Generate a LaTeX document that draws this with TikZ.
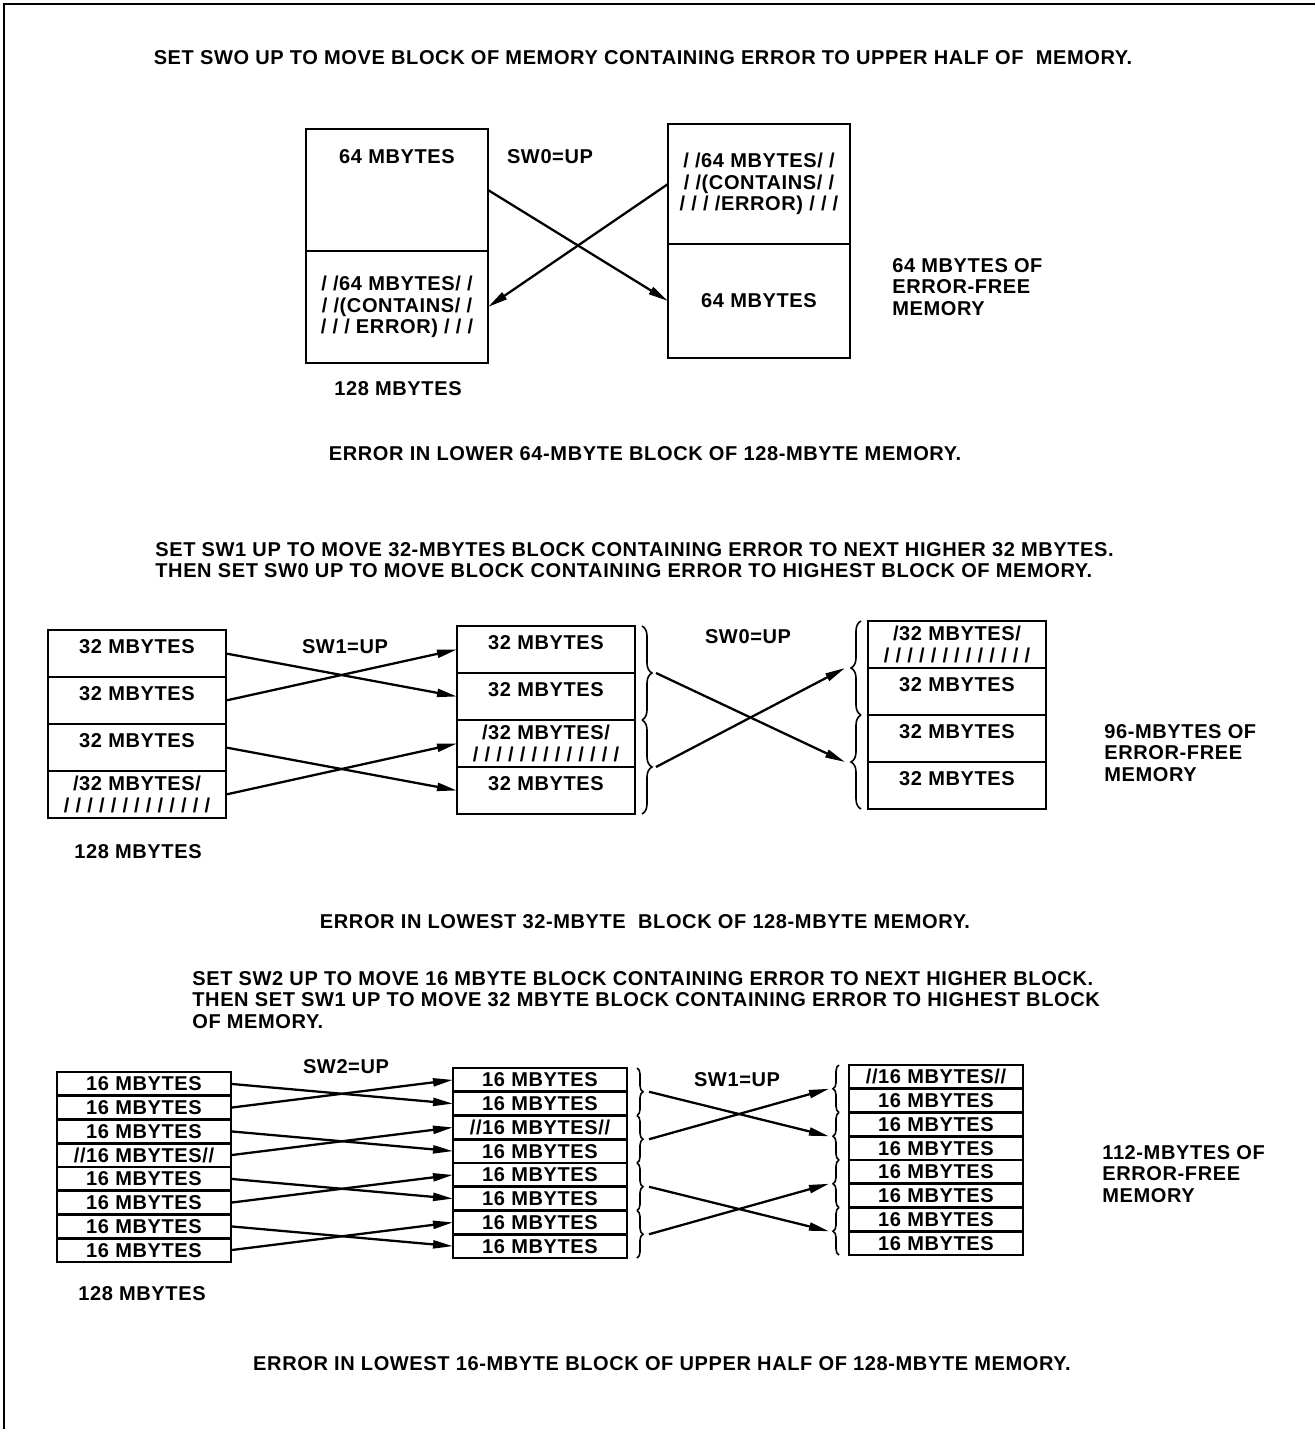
\documentclass[tikz,border=0pt]{standalone}
\usepackage{fontspec}
\setmainfont[LetterSpace=3]{Liberation Sans}
\usetikzlibrary{arrows.meta,positioning,calc,decorations.pathreplacing}

\begin{document}
\begin{tikzpicture}[
    x=0.2mm, y=-0.2mm,
    every node/.style={font=\fontsize{11.4}{12.3}\selectfont\bfseries},
    cell/.style={draw, line width=1.5pt, outer sep=0pt, inner sep=0pt, align=center},
    big/.style={cell, minimum width=36.4mm},
    mid/.style={cell, minimum width=35.6mm, minimum height=9.4mm,
                text height=2.6mm, text depth=2.6mm},
    midx/.style={cell, minimum width=35.6mm, minimum height=9.4mm},
    small/.style={cell, minimum width=34.8mm, minimum height=4.75mm},
    note/.style={anchor=north west, align=left, inner sep=0pt},
    line/.style={-{Triangle[length=4mm,width=1.6mm]}, line width=1.3pt},
    brace/.style={decorate, decoration={brace, amplitude=2mm}, line width=0.9pt},
    thin brace/.style={decorate, decoration={brace, amplitude=1.2mm}, line width=0.9pt}
]
\useasboundingbox (0,0) rectangle (1315,1429);
\draw[line width=1.5pt] (1315,4) -- (4,4) -- (4,1429);

% first step: SW0
\node (head1) at (643,58) {SET SWO UP TO MOVE BLOCK OF MEMORY CONTAINING ERROR TO UPPER HALF OF \ MEMORY.};
\node[big, minimum height=24.4mm, text height=2.6mm, text depth=13.4mm, anchor=north west]
      (a1) at (306,129) {64 MBYTES};
\node[big, minimum height=22.4mm, below=0pt of a1]
      (a2) {/\ /64 MBYTES/\ /\\/\ /(CONTAINS/\ /\\/\ /\ /\ ERROR)\ /\ /\ /};
\node[big, minimum height=24mm, anchor=north west]
      (b1) at (668,124) {/\ /64 MBYTES/\ /\\/\ /(CONTAINS/\ /\\/\ /\ /\ /ERROR)\ /\ /\ /};
\node[big, minimum height=22.8mm, below=0pt of b1] (b2) {64 MBYTES};
\node (sw0a) at (550,157) {SW0=UP};
\node[note] (free1) at (892,258) {64 MBYTES OF\\ERROR-FREE\\MEMORY};
\node (size1) at (398,389) {128 MBYTES};
\node (cap1) at (645,454) {ERROR IN LOWER 64-MBYTE BLOCK OF 128-MBYTE MEMORY.};

\draw[line] (a1.east) -- (b2.west);
\draw[line] (b1.west) -- (a2.east);

% second step: SW1 then SW0
\node[note] (head2) at (155,542) {SET SW1 UP TO MOVE 32-MBYTES BLOCK CONTAINING ERROR TO NEXT HIGHER 32 MBYTES.\\
      THEN SET SW0 UP TO MOVE BLOCK CONTAINING ERROR TO HIGHEST BLOCK OF MEMORY.};
\node[mid, anchor=north west] (c1) at (48,630) {32 MBYTES};
\node[mid,  below=0pt of c1] (c2) {32 MBYTES};
\node[mid,  below=0pt of c2] (c3) {32 MBYTES};
\node[midx, below=0pt of c3] (c4) {/32 MBYTES/\\/ / / / / / / / / / / / /};

\node[mid, anchor=north west] (d1) at (457,626) {32 MBYTES};
\node[mid,  below=0pt of d1] (d2) {32 MBYTES};
\node[midx, below=0pt of d2] (d3) {/32 MBYTES/\\/ / / / / / / / / / / / /};
\node[mid,  below=0pt of d3] (d4) {32 MBYTES};

\node[midx, anchor=north west] (e1) at (868,621) {/32 MBYTES/\\/ / / / / / / / / / / / /};
\node[mid, below=0pt of e1] (e2) {32 MBYTES};
\node[mid, below=0pt of e2] (e3) {32 MBYTES};
\node[mid, below=0pt of e3] (e4) {32 MBYTES};

\node (sw1b) at (345,647) {SW1=UP};
\node (sw0b) at (748,637) {SW0=UP};
\node[note] (free2) at (1104,724) {96-MBYTES OF\\ERROR-FREE\\MEMORY};
\node (size2) at (138,852) {128 MBYTES};
\node (cap2) at (645,922) {ERROR IN LOWEST 32-MBYTE \ BLOCK OF 128-MBYTE MEMORY.};

\draw[brace] ($(d1.north east)+(7,0)$) -- ($(d2.south east)+(7,0)$);
\draw[brace] ($(d3.north east)+(7,0)$) -- ($(d4.south east)+(7,0)$);
\draw[brace] ($(e2.south west)+(-7,0)$) -- ($(e1.north west)+(-7,0)$);
\draw[brace] ($(e4.south west)+(-7,0)$) -- ($(e3.north west)+(-7,0)$);
\coordinate (t1) at ($(d1.south east)+(21,0)$);
\coordinate (t2) at ($(d3.south east)+(21,0)$);
\coordinate (u1) at ($(e1.south west)+(-23,0)$);
\coordinate (u2) at ($(e3.south west)+(-23,0)$);

\draw[line] (c1.east) -- (d2.west);
\draw[line] (c2.east) -- (d1.west);
\draw[line] (c3.east) -- (d4.west);
\draw[line] (c4.east) -- (d3.west);
\draw[line] (t1) -- (u2);
\draw[line] (t2) -- (u1);

% third step: SW2 then SW1
\node[note] (head3) at (192,971) {SET SW2 UP TO MOVE 16 MBYTE BLOCK CONTAINING ERROR TO NEXT HIGHER BLOCK.\\
      THEN SET SW1 UP TO MOVE 32 MBYTE BLOCK CONTAINING ERROR TO HIGHEST BLOCK\\OF MEMORY.};
\node[small, anchor=north west] (f1) at (57,1072) {16 MBYTES};
\node[small, below=0pt of f1] (f2) {16 MBYTES};
\node[small, below=0pt of f2] (f3) {16 MBYTES};
\node[small, below=0pt of f3] (f4) {//16 MBYTES//};
\node[small, below=0pt of f4] (f5) {16 MBYTES};
\node[small, below=0pt of f5] (f6) {16 MBYTES};
\node[small, below=0pt of f6] (f7) {16 MBYTES};
\node[small, below=0pt of f7] (f8) {16 MBYTES};

\node[small, anchor=north west] (g1) at (453,1068) {16 MBYTES};
\node[small, below=0pt of g1] (g2) {16 MBYTES};
\node[small, below=0pt of g2] (g3) {//16 MBYTES//};
\node[small, below=0pt of g3] (g4) {16 MBYTES};
\node[small, below=0pt of g4] (g5) {16 MBYTES};
\node[small, below=0pt of g5] (g6) {16 MBYTES};
\node[small, below=0pt of g6] (g7) {16 MBYTES};
\node[small, below=0pt of g7] (g8) {16 MBYTES};

\node[small, anchor=north west] (h1) at (849,1065) {//16 MBYTES//};
\node[small, below=0pt of h1] (h2) {16 MBYTES};
\node[small, below=0pt of h2] (h3) {16 MBYTES};
\node[small, below=0pt of h3] (h4) {16 MBYTES};
\node[small, below=0pt of h4] (h5) {16 MBYTES};
\node[small, below=0pt of h5] (h6) {16 MBYTES};
\node[small, below=0pt of h6] (h7) {16 MBYTES};
\node[small, below=0pt of h7] (h8) {16 MBYTES};

\node (sw2c) at (346,1067) {SW2=UP};
\node (sw1c) at (737,1080) {SW1=UP};
\node[note] (free3) at (1102,1145) {112-MBYTES OF\\ERROR-FREE\\MEMORY};
\node (size3) at (142,1294) {128 MBYTES};
\node (cap3) at (662,1364) {ERROR IN LOWEST 16-MBYTE BLOCK OF UPPER HALF OF 128-MBYTE MEMORY.};

\draw[thin brace] ($(g1.north east)+(10,0)$) -- ($(g2.south east)+(10,0)$);
\draw[thin brace] ($(g3.north east)+(10,0)$) -- ($(g4.south east)+(10,0)$);
\draw[thin brace] ($(g5.north east)+(10,0)$) -- ($(g6.south east)+(10,0)$);
\draw[thin brace] ($(g7.north east)+(10,0)$) -- ($(g8.south east)+(10,0)$);
\draw[thin brace] ($(h2.south west)+(-10,0)$) -- ($(h1.north west)+(-10,0)$);
\draw[thin brace] ($(h4.south west)+(-10,0)$) -- ($(h3.north west)+(-10,0)$);
\draw[thin brace] ($(h6.south west)+(-10,0)$) -- ($(h5.north west)+(-10,0)$);
\draw[thin brace] ($(h8.south west)+(-10,0)$) -- ($(h7.north west)+(-10,0)$);
\coordinate (v1) at ($(g1.south east)+(22,0)$);
\coordinate (v2) at ($(g3.south east)+(22,0)$);
\coordinate (v3) at ($(g5.south east)+(22,0)$);
\coordinate (v4) at ($(g7.south east)+(22,0)$);
\coordinate (w1) at ($(h1.south west)+(-20,0)$);
\coordinate (w2) at ($(h3.south west)+(-20,0)$);
\coordinate (w3) at ($(h5.south west)+(-20,0)$);
\coordinate (w4) at ($(h7.south west)+(-20,0)$);

\draw[line] (f1.east) -- (g2.west);
\draw[line] (f2.east) -- (g1.west);
\draw[line] (f3.east) -- (g4.west);
\draw[line] (f4.east) -- (g3.west);
\draw[line] (f5.east) -- (g6.west);
\draw[line] (f6.east) -- (g5.west);
\draw[line] (f7.east) -- (g8.west);
\draw[line] (f8.east) -- (g7.west);
\draw[line] (v1) -- (w2);
\draw[line] (v2) -- (w1);
\draw[line] (v3) -- (w4);
\draw[line] (v4) -- (w3);
\end{tikzpicture}
\end{document}
